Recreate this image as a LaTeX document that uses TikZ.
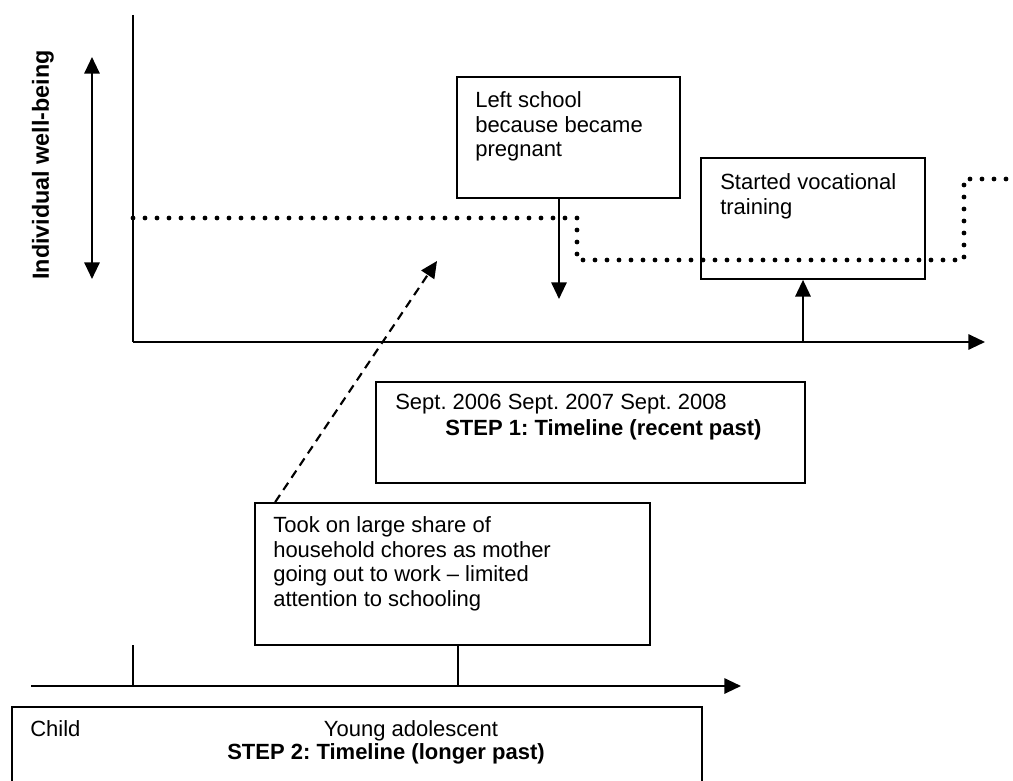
\documentclass[tikz,border=0pt]{standalone}
\usepackage{fontspec}
\setmainfont{Liberation Sans}
\usepackage{tikz}
\usetikzlibrary{calc, arrows.meta, positioning, fit}
\frenchspacing

\begin{document}
\begin{tikzpicture}[x=0.75pt, y=-0.75pt, font=\fontsize{16.5}{18.6}\selectfont,
    axisline/.style={line width=1.5pt},
    axis/.style={line width=1.5pt, -{Triangle[length=12.5pt, width=11.5pt]}},
    eventbox/.style={draw, line width=1.3pt, inner sep=0pt},
    boxtext/.style={anchor=north west, inner sep=0pt, align=left},
    wellbeing/.style={line width=3.6pt, line cap=round, dash pattern=on 0pt off 9pt},
    tip/.style={line width=1.5pt, -{Triangle[length=12.5pt, width=11.5pt]}},
    link/.style={line width=1.6pt, dash pattern=on 6.5pt off 4.5pt, -{Triangle[length=12.5pt, width=11.5pt]}}]
  \clip (0,0) rectangle (1013,781);

  % step 1 axes
  \coordinate (origin) at (133,342);
  \coordinate (ytop) at (133,15);
  \coordinate (xend) at (985,342);
  \draw[axisline] (ytop) -- (origin);
  \draw[axis] (origin) -- (xend);

  % well-being scale
  \coordinate (scaletop) at (92,57);
  \coordinate (scalebot) at (92,279);
  \draw[tip, {Triangle[length=12.5pt, width=11.5pt]}-{Triangle[length=12.5pt, width=11.5pt]}] (scaletop) -- (scalebot);
  \node[rotate=90, font=\fontsize{17.5}{20}\selectfont\bfseries] (ylabel) at (43,165) {Individual well-being};

  % well-being level
  \draw[wellbeing] (133,218) -- (577,218) -- (577,260) -- (964,260) -- (964,179) -- (1013,179);

  % events
  \node[eventbox, fit={(457,77) (680,198)}] (pregnant) {};
  \node[boxtext] (pregnanttxt) at (475,91) {Left school\\because became\\pregnant};
  \coordinate (pregnantdrop) at (559,299);
  \draw[tip] (pregnantdrop |- pregnant.south) -- (pregnantdrop);

  \node[eventbox, fit={(701,158) (925,279)}] (training) {};
  \node[boxtext] (trainingtxt) at (720,173) {Started vocational\\training};
  \coordinate (trainingstart) at (803,342);
  \draw[tip] (trainingstart) -- (trainingstart |- training.south);

  % step 1 caption
  \node[eventbox, fit={(376,382) (805,483)}] (step1) {};
  \node[boxtext] (dates) at (395,394) {Sept. 2006 Sept. 2007 Sept. 2008};
  \node[boxtext, font=\fontsize{16.5}{18.6}\selectfont\bfseries] (step1txt) at (445,419) {STEP 1: Timeline (recent past)};

  % chores
  \node[eventbox, fit={(255,503) (650,645)}] (chores) {};
  \node[boxtext] (chorestxt) at (273,516) {Took on large share of\\household chores as mother\\going out to work -- limited\\attention to schooling};
  \coordinate (choresto) at (437,261);
  \draw[link] ($(chores.north west)+(21,0)$) -- (choresto);

  % step 2 axis
  \coordinate (start2) at (31,686);
  \coordinate (end2) at (741,686);
  \draw[axis] (start2) -- (end2);
  \coordinate (childtick) at (133,645);
  \draw[axisline] (childtick) -- (childtick |- start2);
  \draw[axisline] (chores.south -| 458,0) -- (458,686);

  % step 2 caption
  \node[eventbox, fit={(12,707) (702,800)}] (step2) {};
  \node[anchor=base west, inner sep=0pt] (child) at (30,736) {Child};
  \node[anchor=base, inner sep=0pt] (adolescent) at (411,736) {Young adolescent};
  \node[anchor=base, inner sep=0pt, font=\fontsize{16.5}{18.6}\selectfont\bfseries] (step2txt) at (386,759) {STEP 2: Timeline (longer past)};
\end{tikzpicture}
\end{document}
